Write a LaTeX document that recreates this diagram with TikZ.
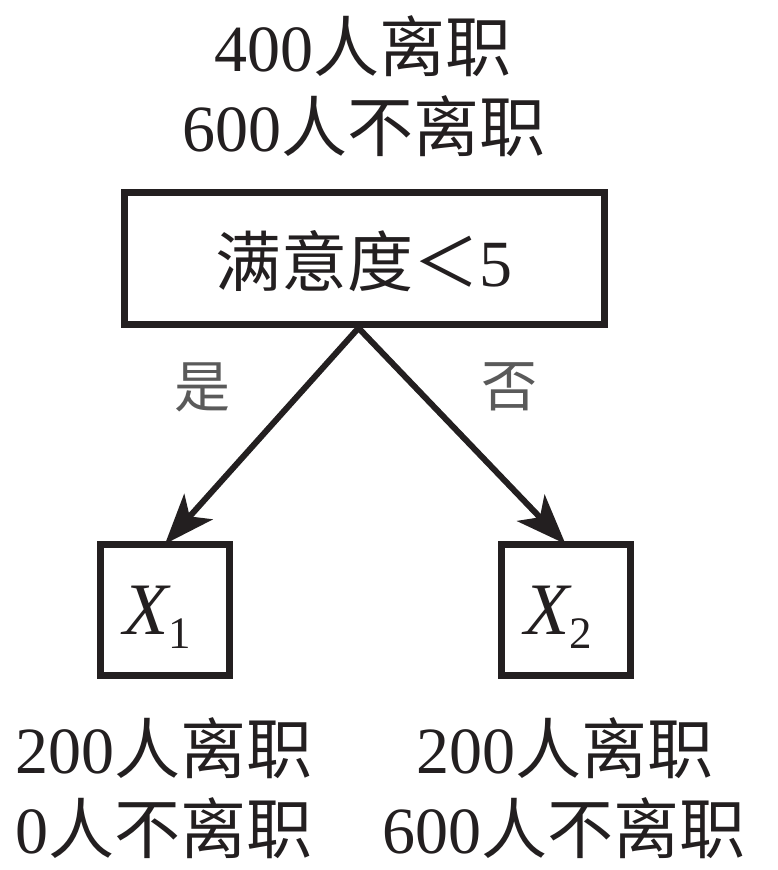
\documentclass[tikz,border=0pt]{standalone}
\usepackage{fontspec}
\setmainfont{Liberation Serif}
\newfontfamily\cjk{Noto Sans CJK SC}
\usetikzlibrary{arrows.meta}
\definecolor{ink}{HTML}{231F20}
\definecolor{lab}{HTML}{5A5A5A}
\begin{document}
\begin{tikzpicture}[x=1pt,y=-1pt,
  bigtxt/.style={text=ink, font=\fontsize{66}{80}\selectfont, inner sep=0pt},
  labtxt/.style={text=lab, font=\fontsize{56}{60}\selectfont\cjk, inner sep=0pt},
  boxnode/.style={draw=ink, line width=7pt, inner sep=0pt, fill=white},
  vartxt/.style={text=ink, font=\fontsize{74}{80}\selectfont, inner sep=0pt, anchor=base},
  arr/.style={draw=ink, line width=6pt, -{Stealth[length=50pt,width=38pt,inset=13pt]}}
]
\useasboundingbox[fill=white] (0,0) rectangle (778,870);

% texts above
\node[bigtxt] (t1) at (363,46) {400{\cjk 人离职}};
\node[bigtxt] (t2) at (364,126) {600{\cjk 人不离职}};

% root box
\node[boxnode, minimum width=480pt, minimum height=132pt] (root) at (364.5,258.5) {};
\node[bigtxt] (roottxt) at (363.5,261) {{\cjk 满意度＜}5};

% leaf boxes
\node[boxnode, minimum width=129pt, minimum height=131pt] (x1) at (165,610) {};
\node[boxnode, minimum width=129pt, minimum height=131pt] (x2) at (565.5,610) {};
\node[vartxt] (x1txt) at (157,634) {\textit{X}\kern-3pt\raisebox{-14pt}{\fontsize{45}{45}\selectfont 1}};
\node[vartxt] (x2txt) at (558,634) {\textit{X}\kern-3pt\raisebox{-14pt}{\fontsize{45}{45}\selectfont 2}};

% arrows
\draw[arr] ([xshift=-6pt]root.south) -- ([yshift=-3pt]x1.north);
\draw[arr] ([xshift=-6pt]root.south) -- ([yshift=-3pt]x2.north);

% branch labels
\node[labtxt] (yes) at (202,387) {是};
\node[labtxt] (no) at (509,387) {否};

% texts below
\node[bigtxt] (l1) at (164,748) {200{\cjk 人离职}};
\node[bigtxt] (l2) at (164,828) {0{\cjk 人不离职}};
\node[bigtxt] (r1) at (565,748) {200{\cjk 人离职}};
\node[bigtxt] (r2) at (564,828) {600{\cjk 人不离职}};
\end{tikzpicture}
\end{document}
